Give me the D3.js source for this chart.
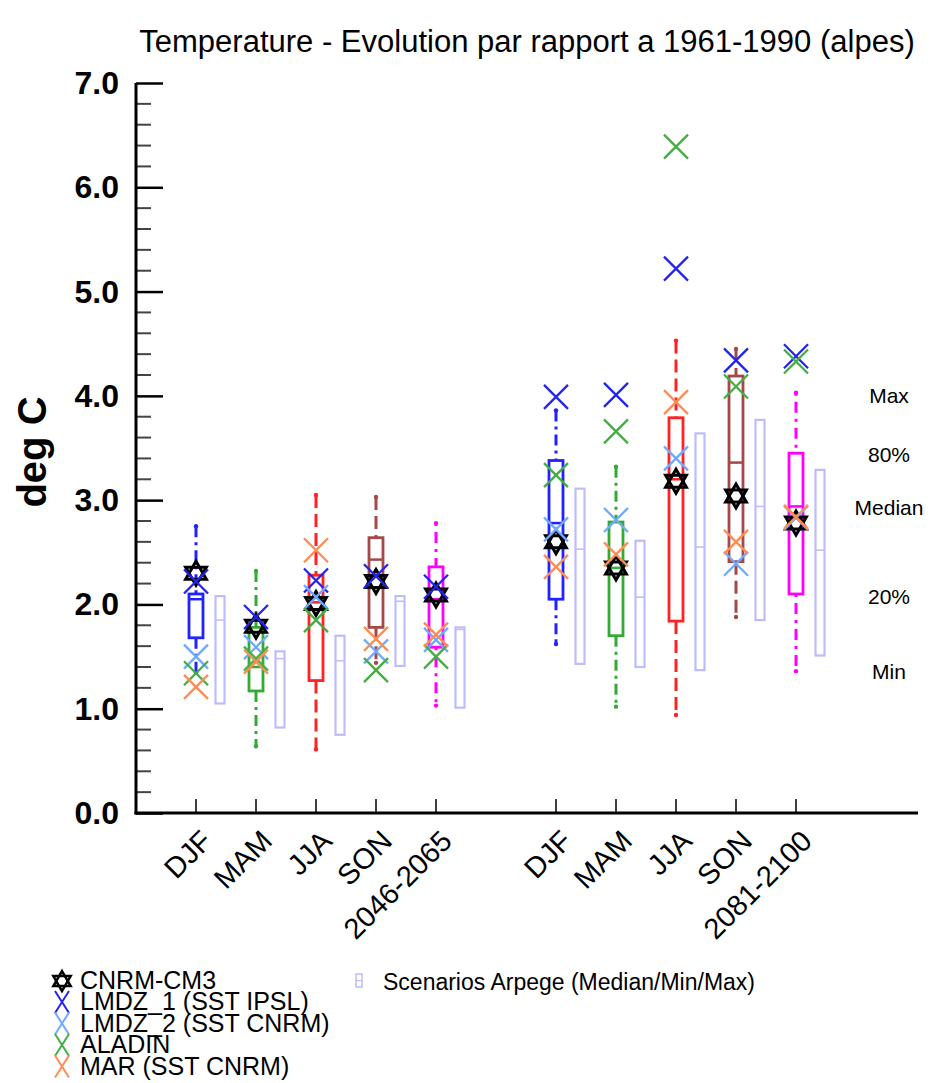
<!DOCTYPE html>
<html>
<head>
<meta charset="utf-8">
<script src="https://cdn.jsdelivr.net/npm/d3@7"></script>
<style>
  html, body { margin: 0; padding: 0; background: #fff; }
  svg { display: block; }
  text { font-family: "Liberation Sans", Arial, Helvetica, sans-serif; fill: #000; }
</style>
</head>
<body>
<svg id="chart" width="932" height="1083"></svg>
<script>
// ---------------- data ----------------
const categories = ["DJF", "MAM", "JJA", "SON", "2046-2065", "DJF", "MAM", "JJA", "SON", "2081-2100"];
const boxColors  = ["#2222ff", "#33aa33", "#ff2222", "#a54848", "#ff00ff", "#2222ff", "#33aa33", "#ff2222", "#a54848", "#ff00ff"];

// ensemble box statistics (deg C)
const boxMin = [1.35, 0.64, 0.61, 1.44, 1.03, 1.62, 1.02, 0.94, 1.88, 1.36];
const boxQ20 = [1.68, 1.17, 1.27, 1.78, 1.59, 2.05, 1.70, 1.84, 2.41, 2.10];
const boxMed = [2.05, 1.40, 2.02, 2.43, 2.05, 2.78, 2.35, 3.20, 3.36, 2.94];
const boxQ80 = [2.10, 1.78, 2.28, 2.64, 2.36, 3.38, 2.79, 3.79, 4.19, 3.45];
const boxMax = [2.75, 2.32, 3.05, 3.03, 2.78, 3.86, 3.32, 4.53, 4.45, 4.03];

// Scenarios Arpege (Median/Min/Max)
const arpMin = [1.05, 0.82, 0.75, 1.41, 1.01, 1.43, 1.40, 1.37, 1.85, 1.51];
const arpMed = [1.85, 1.48, 1.46, 2.03, 1.76, 2.53, 2.07, 2.55, 2.94, 2.52];
const arpMax = [2.08, 1.55, 1.70, 2.08, 1.78, 3.11, 2.61, 3.64, 3.77, 3.29];

// individual models
const cnrm   = [2.30, 1.79, 2.01, 2.22, 2.09, 2.60, 2.35, 3.18, 3.04, 2.78];
const lmdz1  = [2.22, 1.88, 2.23, 2.27, 2.17, 3.99, 4.01, 5.22, 4.34, 4.38];
const lmdz2  = [1.50, 1.59, 2.07, 1.55, 1.66, 2.72, 2.81, 3.40, 2.39, 2.83];
const aladin = [1.34, 1.48, 1.85, 1.37, 1.50, 3.24, 3.66, 6.39, 4.09, 4.33];
const mar    = [1.21, 1.45, 2.52, 1.67, 1.71, 2.36, 2.48, 3.94, 2.60, 2.84];

const models = [
  { name: "LMDZ_1 (SST IPSL)", values: lmdz1,  color: "#2424ee" },
  { name: "LMDZ_2 (SST CNRM)", values: lmdz2,  color: "#6eaaff" },
  { name: "ALADIN",            values: aladin, color: "#44ad44" },
  { name: "MAR (SST CNRM)",    values: mar,    color: "#ff8c55" }
];

const yTicks = [0, 1, 2, 3, 4, 5, 6, 7];
const keyLabels = [["Max", 4.0], ["80%", 3.43], ["Median", 2.92], ["20%", 2.07], ["Min", 1.35]];
const arpColor = "#bcbcff";

// ---------------- layout ----------------
const svg = d3.select("#chart");
const x = d3.scaleLinear().domain([0, 13]).range([136, 916]);
const y = d3.scaleLinear().domain([0, 7]).range([813, 83]);
const slot = i => i + 1 + (i >= 5 ? 1 : 0);
const cx = i => x(slot(i));

// title
svg.append("text").attr("x", 527).attr("y", 52).attr("text-anchor", "middle")
  .style("font-size", "31px").text("Temperature - Evolution par rapport a 1961-1990 (alpes)");

// y axis label
svg.append("text").attr("transform", "translate(46,452) rotate(-90)").attr("text-anchor", "middle")
  .style("font-size", "40px").style("font-weight", "bold").text("deg C");

// y axis
const yAxis = d3.axisRight(y).tickValues(yTicks).tickSize(27).tickFormat("");
const gy = svg.append("g").attr("transform", "translate(136,0)").call(yAxis);
gy.select(".domain").remove();
gy.selectAll(".tick line").attr("stroke", "#000").attr("stroke-width", 2.5);
const minor = d3.range(0, 7.001, 0.2).filter(v => Math.abs(v - Math.round(v)) > 1e-6);
svg.append("g").selectAll("line").data(minor).join("line")
  .attr("x1", 136).attr("x2", 151).attr("y1", d => y(d)).attr("y2", d => y(d))
  .attr("stroke", "#444").attr("stroke-width", 2);
svg.append("g").selectAll("text").data(yTicks).join("text")
  .attr("x", 119).attr("y", d => y(d) + 11).attr("text-anchor", "end")
  .style("font-size", "32px").style("font-weight", "bold").text(d => d.toFixed(1));
svg.append("line").attr("x1", 136).attr("x2", 136).attr("y1", y(7)).attr("y2", y(0) + 1.5)
  .attr("stroke", "#000").attr("stroke-width", 3);

// x axis
svg.append("line").attr("x1", 134.5).attr("x2", 918).attr("y1", y(0)).attr("y2", y(0))
  .attr("stroke", "#000").attr("stroke-width", 3);
svg.append("g").selectAll("line").data(categories).join("line")
  .attr("x1", (d, i) => cx(i)).attr("x2", (d, i) => cx(i))
  .attr("y1", y(0)).attr("y2", y(0) - 14).attr("stroke", "#000").attr("stroke-width", 1.5);
svg.append("g").selectAll("text").data(categories).join("text")
  .attr("transform", (d, i) => `translate(${cx(i) + 3},${y(0) + 15}) rotate(-45)`)
  .attr("text-anchor", "end").attr("dy", "0.72em")
  .style("font-size", "29px").text(d => d);

// right key labels
svg.append("g").selectAll("text").data(keyLabels).join("text")
  .attr("x", 889).attr("y", d => y(d[1]) + 7).attr("text-anchor", "middle")
  .style("font-size", "21px").text(d => d[0]);

// Arpege boxes
const gA = svg.append("g");
categories.forEach((c, i) => {
  const xc = cx(i) + 24, w = 9;
  gA.append("rect").attr("x", xc - w / 2).attr("y", y(arpMax[i])).attr("width", w)
    .attr("height", y(arpMin[i]) - y(arpMax[i])).attr("fill", "none")
    .attr("stroke", arpColor).attr("stroke-width", 2.2);
  gA.append("line").attr("x1", xc - w / 2).attr("x2", xc + w / 2)
    .attr("y1", y(arpMed[i])).attr("y2", y(arpMed[i])).attr("stroke", arpColor).attr("stroke-width", 1.5);
});

// ensemble boxes with whiskers
const dashes = ["11,5,3,5", "11,5,3,5", "13,6", "13,6", "3,6,11,6", "11,5,3,5", "11,5,3,5", "13,6", "13,6", "3,6,11,6"];
const gB = svg.append("g");
categories.forEach((c, i) => {
  const xc = cx(i), w = 14, col = boxColors[i];
  gB.append("line").attr("x1", xc).attr("x2", xc).attr("y1", y(boxMax[i])).attr("y2", y(boxQ80[i]))
    .attr("stroke", col).attr("stroke-width", 3).attr("stroke-dasharray", dashes[i]);
  gB.append("line").attr("x1", xc).attr("x2", xc).attr("y1", y(boxQ20[i])).attr("y2", y(boxMin[i]))
    .attr("stroke", col).attr("stroke-width", 3).attr("stroke-dasharray", dashes[i]);
  [boxMax[i], boxMin[i]].forEach(v => gB.append("circle").attr("cx", xc).attr("cy", y(v)).attr("r", 2.2).attr("fill", col));
  gB.append("rect").attr("x", xc - w / 2).attr("y", y(boxQ80[i])).attr("width", w)
    .attr("height", y(boxQ20[i]) - y(boxQ80[i])).attr("fill", "none")
    .attr("stroke", col).attr("stroke-width", 2.8);
  gB.append("line").attr("x1", xc - w / 2).attr("x2", xc + w / 2)
    .attr("y1", y(boxMed[i])).attr("y2", y(boxMed[i])).attr("stroke", col).attr("stroke-width", 2.5);
});

// marker helpers
function hexagram(g, xc, yc, r, sw) {
  const tri = (rot) => d3.range(3).map(k => {
    const a = rot + k * 2 * Math.PI / 3;
    return [xc + r * Math.sin(a), yc - r * Math.cos(a)];
  });
  const line = d3.line().curve(d3.curveLinearClosed);
  g.append("path").attr("d", line(tri(0))).attr("fill", "none").attr("stroke", "#000").attr("stroke-width", sw);
  g.append("path").attr("d", line(tri(Math.PI))).attr("fill", "none").attr("stroke", "#000").attr("stroke-width", sw);
}
function cross(g, xc, yc, hw, hh, col, sw) {
  g.append("path").attr("d", `M${xc - hw},${yc - hh}L${xc + hw},${yc + hh}M${xc - hw},${yc + hh}L${xc + hw},${yc - hh}`)
    .attr("stroke", col).attr("stroke-width", sw).attr("fill", "none");
}

const gM = svg.append("g");
cnrm.forEach((v, i) => hexagram(gM, cx(i), y(v), 12, 3));
models.forEach(m => m.values.forEach((v, i) => cross(gM, cx(i), y(v), 12, 12, m.color, 2.3)));

// legend
const gL = svg.append("g");
hexagram(gL, 62, 981, 10, 2.5);
gL.append("text").attr("x", 80).attr("y", 989).style("font-size", "25px").text("CNRM-CM3");
models.forEach((m, k) => {
  const yc = 1002 + k * 21.5;
  cross(gL, 62, yc, 7, 11, m.color, 2);
  gL.append("text").attr("x", 80).attr("y", yc + 8).style("font-size", "25px").text(m.name);
});
gL.append("rect").attr("x", 356).attr("y", 974).attr("width", 6).attr("height", 13)
  .attr("fill", "none").attr("stroke", arpColor).attr("stroke-width", 1.5);
gL.append("line").attr("x1", 356).attr("x2", 362).attr("y1", 980.5).attr("y2", 980.5).attr("stroke", arpColor).attr("stroke-width", 1.2);
gL.append("text").attr("x", 383).attr("y", 990).style("font-size", "23px").text("Scenarios Arpege (Median/Min/Max)");
</script>
</body>
</html>
